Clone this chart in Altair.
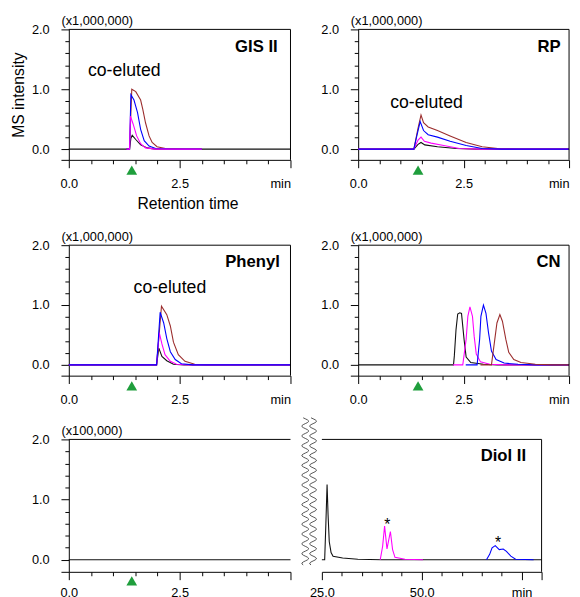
import altair as alt
import pandas as pd

FONT = "Liberation Sans"
C_BLACK = "#111111"
C_MAGENTA = "#ff00ff"
C_BLUE = "#0000ff"
C_BROWN = "#9b2d2d"
C_GREEN = "#1f9e3c"
C_WAVE = "#555555"

# ---------------- chromatogram traces (time in min, intensity in axis units) ----------------
GIS_BLACK_T = [0.0, 1.37, 1.40, 1.43, 1.51, 1.62, 1.77, 1.95, 5.0]
GIS_BLACK_I = [0.0, 0.0, 0.18, 0.23, 0.16, 0.07, 0.02, 0.0, 0.0]
GIS_MAGENTA_T = [1.30, 1.37, 1.39, 1.45, 1.53, 1.62, 1.73, 1.95, 3.0]
GIS_MAGENTA_I = [0.0, 0.0, 0.55, 0.42, 0.22, 0.09, 0.02, 0.0, 0.0]
GIS_BLUE_T = [1.30, 1.37, 1.40, 1.47, 1.55, 1.62, 1.70, 1.81, 1.96, 2.3, 3.0]
GIS_BLUE_I = [0.0, 0.0, 0.91, 0.82, 0.61, 0.33, 0.14, 0.05, 0.01, 0.0, 0.0]
GIS_BROWN_T = [1.30, 1.37, 1.42, 1.51, 1.62, 1.67, 1.73, 1.81, 1.88, 1.99, 2.18, 2.6, 3.0]
GIS_BROWN_I = [0.0, 0.0, 1.0, 0.96, 0.82, 0.66, 0.44, 0.22, 0.11, 0.04, 0.01, 0.0, 0.0]

RP_BLACK_T = [0.0, 1.32, 1.42, 1.49, 1.58, 1.88, 2.33, 2.8, 5.0]
RP_BLACK_I = [0.0, 0.0, 0.08, 0.11, 0.07, 0.04, 0.01, 0.0, 0.0]
RP_MAGENTA_T = [0.0, 1.32, 1.42, 1.49, 1.57, 1.73, 2.03, 2.4, 2.9, 5.0]
RP_MAGENTA_I = [0.0, 0.0, 0.15, 0.20, 0.13, 0.10, 0.06, 0.01, 0.0, 0.0]
RP_BLUE_T = [0.0, 1.32, 1.40, 1.47, 1.55, 1.66, 1.88, 2.18, 2.56, 2.94, 3.4, 5.0]
RP_BLUE_I = [0.0, 0.0, 0.25, 0.46, 0.31, 0.24, 0.20, 0.13, 0.06, 0.01, 0.0, 0.0]
RP_BROWN_T = [0.0, 1.32, 1.42, 1.49, 1.55, 1.66, 1.88, 2.18, 2.56, 2.94, 3.31, 3.8, 5.0]
RP_BROWN_I = [0.0, 0.0, 0.35, 0.57, 0.44, 0.37, 0.31, 0.22, 0.11, 0.04, 0.01, 0.0, 0.0]

PH_BLACK_T = [0.0, 1.98, 2.03, 2.10, 2.21, 2.36, 2.6, 5.0]
PH_BLACK_I = [0.0, 0.0, 0.28, 0.14, 0.07, 0.01, 0.0, 0.0]
PH_MAGENTA_T = [0.0, 1.98, 2.04, 2.10, 2.17, 2.29, 2.43, 2.7, 5.0]
PH_MAGENTA_I = [0.0, 0.0, 0.54, 0.35, 0.17, 0.06, 0.01, 0.0, 0.0]
PH_BLUE_T = [0.0, 1.98, 2.06, 2.14, 2.21, 2.29, 2.40, 2.54, 2.8, 5.0]
PH_BLUE_I = [0.0, 0.0, 0.88, 0.70, 0.44, 0.22, 0.09, 0.02, 0.0, 0.0]
PH_BROWN_T = [0.0, 1.98, 2.09, 2.21, 2.29, 2.36, 2.47, 2.62, 2.84, 3.1, 5.0]
PH_BROWN_I = [0.0, 0.0, 0.98, 0.84, 0.65, 0.38, 0.17, 0.06, 0.01, 0.0, 0.0]

CN_BLACK_T = [0.0, 2.26, 2.28, 2.32, 2.36, 2.41, 2.45, 2.51, 2.56, 2.67, 2.97, 3.3, 5.0]
CN_BLACK_I = [0.0, 0.0, 0.15, 0.59, 0.85, 0.87, 0.86, 0.43, 0.13, 0.04, 0.01, 0.0, 0.0]
CN_MAGENTA_T = [2.25, 2.48, 2.56, 2.60, 2.65, 2.71, 2.75, 2.80, 2.90, 3.12, 3.5, 5.0]
CN_MAGENTA_I = [0.0, 0.0, 0.43, 0.81, 0.97, 0.81, 0.48, 0.18, 0.05, 0.01, 0.0, 0.0]
CN_BLUE_T = [2.55, 2.82, 2.88, 2.91, 2.97, 3.03, 3.09, 3.16, 3.27, 3.46, 3.79, 4.2, 5.0]
CN_BLUE_I = [0.0, 0.0, 0.43, 0.81, 1.0, 0.86, 0.54, 0.23, 0.09, 0.03, 0.01, 0.0, 0.0]
CN_BROWN_T = [2.9, 3.16, 3.24, 3.29, 3.36, 3.42, 3.50, 3.57, 3.69, 3.86, 4.2, 4.6, 5.0]
CN_BROWN_I = [0.0, 0.0, 0.43, 0.70, 0.84, 0.73, 0.43, 0.21, 0.09, 0.04, 0.01, 0.0, 0.0]

DIOL_L_BLACK_T = [0.0, 5.0]
DIOL_L_BLACK_I = [0.0, 0.0]
DIOL_BLACK_T = [25.0, 25.7, 26.0, 26.3, 26.55, 26.85, 27.3, 27.8, 30.2, 34.0, 40.0, 80.0]
DIOL_BLACK_I = [0.0, 0.0, 0.6, 1.25, 0.75, 0.3, 0.12, 0.06, 0.03, 0.01, 0.0, 0.0]
DIOL_MAGENTA_T = [39.6, 40.2, 40.7, 41.3, 42.15, 42.7, 43.3, 45.8, 50.3]
DIOL_MAGENTA_I = [0.0, 0.22, 0.56, 0.18, 0.47, 0.17, 0.04, 0.01, 0.0]
DIOL_BLUE_T = [66.2, 67.0, 67.6, 68.4, 69.4, 70.4, 71.2, 72.3, 73.5, 78.0]
DIOL_BLUE_I = [0.0, 0.09, 0.20, 0.235, 0.17, 0.18, 0.14, 0.06, 0.01, 0.0]

# ---------------- annotations ----------------
DEAD_TIME = 1.42          # green triangle (t0)
DEAD_MARK_I = -0.35
PANEL_NAMES = ["GIS II", "RP", "Phenyl", "CN", "Diol II"]
PANEL_NAME_T = [4.71, 4.80, 4.76, 4.80, 76.1]
PANEL_NAME_I = [1.70, 1.71, 1.72, 1.71, 1.72]
COELUTED_T = [1.25, 1.62, 2.28]
COELUTED_I = [1.31, 0.77, 1.29]
STAR_T = [41.4, 69.1]
STAR_I = [0.57, 0.27]

Y_TICKS_A = [-0.18, 0.0, 0.2, 0.4, 0.6, 0.8, 1.0, 1.2, 1.4, 1.6, 1.8, 2.0]
Y_TICKS_B = [-0.2, 0.0, 0.2, 0.4, 0.6, 0.8, 1.0, 1.2, 1.4, 1.6, 1.8, 2.0]
X_TICKS_SHORT = [0.0, 0.5, 1.0, 1.5, 2.0, 2.5, 3.0, 3.5, 4.0, 4.5, 5.0]
X_TICKS_LONG = [25, 30, 35, 40, 45, 50, 55, 60, 65, 70, 75, 80]

# axis-break decoration, in Diol II (right part) data units
BREAK_CENTERS = [20.83, 22.79]
BREAK_AMP = 0.86
BREAK_TOP = 2.18
PX_PER_I = 61.36


def y_axis(values, title):
    return alt.Axis(
        values=values,
        labelExpr="datum.value == 0 ? '0.0' : datum.value == 1 ? '1.0' : datum.value == 2 ? '2.0' : ''",
        tickSize={"condition": {"test": "datum.value == 0 || datum.value == 1 || datum.value == 2 || datum.value < -0.1",
                                "value": 8}, "value": 4},
        labelPadding=12,
        title=title, titleAngle=0, titleAlign="left", titleBaseline="alphabetic",
        titleX=-8, titleY=-5, titleFontSize=13, titleFontWeight="normal",
    )


def x_axis_short(title=None, show_min=True, pad=10):
    if show_min:
        expr = "datum.value == 0 ? '0.0' : datum.value == 2.5 ? '2.5' : datum.value == 5 ? 'min' : ''"
    else:
        expr = "datum.value == 0 ? '0.0' : datum.value == 2.5 ? '2.5' : ''"
    kw = dict(
        values=X_TICKS_SHORT, labelExpr=expr,
        tickSize={"condition": {"test": "datum.value == 0 || datum.value == 2.5 || datum.value == 5", "value": 8},
                  "value": 4},
        labelAlign={"condition": {"test": "datum.value == 5", "value": "right"}, "value": "center"},
        labelPadding=pad,
    )
    if title:
        kw.update(title=title, titleFontSize=16, titleFontWeight="normal", titleX=121, titleY=50,
                  titleAlign="center", titleBaseline="alphabetic")
    else:
        kw.update(title=None)
    return alt.Axis(**kw)


def x_axis_long(pad=7):
    return alt.Axis(
        values=X_TICKS_LONG,
        labelExpr="datum.value == 25 ? '25.0' : datum.value == 50 ? '50.0' : datum.value == 75 ? 'min' : ''",
        tickSize={"condition": {"test": "datum.value == 25 || datum.value == 50 || datum.value == 75 || datum.value == 80",
                                "value": 8}, "value": 4},
        labelPadding=pad, title=None,
    )


def panel(traces, xdom, xax, ydom, yax, width, height, name_idx, coeluted_idx=None,
          dead=True, stars=False, ms_title=None, right_border=True, ghost_unit=None, wave=False):
    xs = alt.Scale(domain=xdom, nice=False, zero=False)
    ys = alt.Scale(domain=ydom, nice=False, zero=False)

    def X(f="t"):
        return alt.X(f + ":Q", scale=xs, axis=xax)

    def Y(f="I"):
        return alt.Y(f + ":Q", scale=ys, axis=yax)

    layers = []
    for color, ts, vs in traces:
        layers.append(
            alt.Chart(pd.DataFrame({"t": ts, "I": vs}))
            .mark_line(color=color, strokeWidth=1.1)
            .encode(x=X(), y=Y())
        )
    # frame: top edge and (optionally) right edge
    top = pd.DataFrame({"t": [xdom[0]], "t2": [xdom[1]], "I": [ydom[1]]})
    layers.append(alt.Chart(top).mark_rule(color="black", strokeWidth=1)
                  .encode(x=X(), x2="t2:Q", y=Y()))
    if right_border:
        rb = pd.DataFrame({"t": [xdom[1]], "I": [ydom[0]], "I2": [ydom[1]]})
        layers.append(alt.Chart(rb).mark_rule(color="black", strokeWidth=1)
                      .encode(x=X(), y=Y(), y2="I2:Q"))
    if dead:
        layers.append(alt.Chart(pd.DataFrame({"t": [DEAD_TIME], "I": [DEAD_MARK_I]}))
                      .mark_point(shape="triangle-up", filled=True, size=120, color=C_GREEN, opacity=1)
                      .encode(x=X(), y=Y()))
    if name_idx is not None:
        layers.append(alt.Chart(pd.DataFrame({"t": [PANEL_NAME_T[name_idx]], "I": [PANEL_NAME_I[name_idx]],
                                              "s": [PANEL_NAMES[name_idx]]}))
                      .mark_text(font=FONT, fontSize=17, fontWeight="bold", align="right", baseline="middle",
                                 color="black")
                      .encode(x=X(), y=Y(), text="s:N"))
    if coeluted_idx is not None:
        layers.append(alt.Chart(pd.DataFrame({"t": [COELUTED_T[coeluted_idx]], "I": [COELUTED_I[coeluted_idx]],
                                              "s": ["co-eluted"]}))
                      .mark_text(font=FONT, fontSize=18, align="center", baseline="middle", color="black")
                      .encode(x=X(), y=Y(), text="s:N"))
    if stars:
        layers.append(alt.Chart(pd.DataFrame({"t": STAR_T, "I": STAR_I, "s": ["*", "*"]}))
                      .mark_text(font=FONT, fontSize=16, align="center", baseline="middle", color="black")
                      .encode(x=X(), y=Y(), text="s:N"))
    if ms_title is not None:
        # visible in the top-left panel; transparent copy elsewhere keeps the grid columns aligned
        layers.append(alt.Chart(pd.DataFrame({"s": ["MS intensity"]}))
                      .mark_text(font=FONT, fontSize=16, angle=270, align="center", baseline="middle",
                                 color="black", opacity=1 if ms_title else 0)
                      .encode(text="s:N", x=alt.value(-51), y=alt.value(67)))
    if ghost_unit is not None:
        layers.append(alt.Chart(pd.DataFrame({"s": [ghost_unit]}))
                      .mark_text(font=FONT, fontSize=13, align="left", baseline="alphabetic", opacity=0)
                      .encode(text="s:N", x=alt.value(-8), y=alt.value(-5)))
    if wave:
        for c in BREAK_CENTERS:
            layers.append(
                alt.Chart(alt.sequence(-11, 140, 1, as_="k"))
                .transform_calculate(t=f"{c} + {BREAK_AMP}*sin(datum.k*2*PI/10)",
                                     I=f"{BREAK_TOP} - datum.k/{PX_PER_I}")
                .mark_line(color=C_WAVE, strokeWidth=1)
                .encode(x=X(), y=Y(), order="k:Q")
            )
    return alt.layer(*layers).properties(width=width, height=height)


YA = [-0.18, 2.0]
YB = [-0.2, 2.0]
W_RIGHT = 215

gis = panel([(C_BLACK, GIS_BLACK_T, GIS_BLACK_I), (C_BROWN, GIS_BROWN_T, GIS_BROWN_I),
             (C_BLUE, GIS_BLUE_T, GIS_BLUE_I), (C_MAGENTA, GIS_MAGENTA_T, GIS_MAGENTA_I)],
            [0, 5], x_axis_short("Retention time"), YA, y_axis(Y_TICKS_A, "(x1,000,000)"),
            226, 133, 0, coeluted_idx=0, ms_title=True)
rp = panel([(C_BLACK, RP_BLACK_T, RP_BLACK_I), (C_BROWN, RP_BROWN_T, RP_BROWN_I),
            (C_MAGENTA, RP_MAGENTA_T, RP_MAGENTA_I), (C_BLUE, RP_BLUE_T, RP_BLUE_I)],
           [0, 5], x_axis_short(), YA, y_axis(Y_TICKS_A, "(x1,000,000)"),
           W_RIGHT, 133, 1, coeluted_idx=1)
ph = panel([(C_BLACK, PH_BLACK_T, PH_BLACK_I), (C_BROWN, PH_BROWN_T, PH_BROWN_I),
            (C_MAGENTA, PH_MAGENTA_T, PH_MAGENTA_I), (C_BLUE, PH_BLUE_T, PH_BLUE_I)],
           [0, 5], x_axis_short(), YA, y_axis(Y_TICKS_A, "(x1,000,000)"),
           226, 133, 2, coeluted_idx=2, ms_title=False)
cn = panel([(C_BLACK, CN_BLACK_T, CN_BLACK_I), (C_MAGENTA, CN_MAGENTA_T, CN_MAGENTA_I),
            (C_BLUE, CN_BLUE_T, CN_BLUE_I), (C_BROWN, CN_BROWN_T, CN_BROWN_I)],
           [0, 5], x_axis_short(), YA, y_axis(Y_TICKS_A, "(x1,000,000)"),
           W_RIGHT, 133, 3)
diol_l = panel([(C_BLACK, DIOL_L_BLACK_T, DIOL_L_BLACK_I)],
               [0, 5], x_axis_short(show_min=False, pad=7), YB, y_axis(Y_TICKS_B, "(x100,000)"),
               226, 135, None, right_border=False, ms_title=False)
diol_r = panel([(C_BLACK, DIOL_BLACK_T, DIOL_BLACK_I), (C_MAGENTA, DIOL_MAGENTA_T, DIOL_MAGENTA_I),
                (C_BLUE, DIOL_BLUE_T, DIOL_BLUE_I)],
               [25, 80], x_axis_long(pad=7), YB, None,
               224, 135, 4, dead=False, stars=True, ghost_unit="(x100,000)", wave=True)

row1 = alt.hconcat(gis, rp, spacing=27)
row2 = alt.hconcat(ph, cn, spacing=27)
row3 = alt.hconcat(diol_l, diol_r, spacing=6)
upper = alt.vconcat(row1, row2, spacing=19)

chart = (
    alt.vconcat(upper, row3, spacing=9)
    .properties(padding={"left": 3, "top": 1, "right": 0, "bottom": 0})
    .configure_view(stroke=None)
    .configure_axis(grid=False, domainColor="black", tickColor="black", labelColor="black",
                    titleColor="black", labelFont=FONT, titleFont=FONT, labelFontSize=13,
                    domainWidth=1, tickWidth=1, labelFlush=False, labelOverlap=False)
)

chart.save("out.html", embed_options={"renderer": "svg", "actions": False})
